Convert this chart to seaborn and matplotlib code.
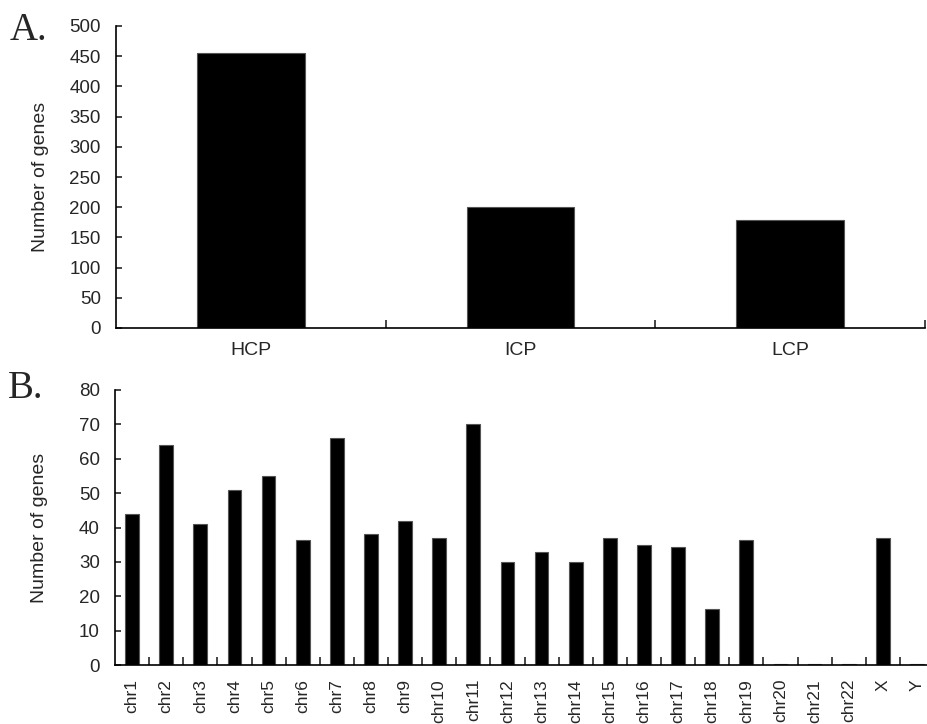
import numpy as np
import pandas as pd
import matplotlib
matplotlib.use("Agg")
import matplotlib.pyplot as plt
import seaborn as sns

# data
cpg_classes = ["HCP", "ICP", "LCP"]
cpg_counts = [455, 200, 178]

chromosomes = ["chr1", "chr2", "chr3", "chr4", "chr5", "chr6", "chr7", "chr8",
               "chr9", "chr10", "chr11", "chr12", "chr13", "chr14", "chr15",
               "chr16", "chr17", "chr18", "chr19", "chr20", "chr21", "chr22",
               "X", "Y"]
chrom_counts = [44, 64, 41, 51, 55, 36.5, 66, 38, 42, 37, 70, 30, 33, 30, 37,
                35, 34.3, 16.3, 36.5, 0.4, 0.4, 0.4, 37, 0.4]

sns.set_style("white")
plt.rcParams["font.family"] = ["Liberation Sans", "DejaVu Sans"]

fig = plt.figure(figsize=(9.27, 7.24), dpi=100)
ax1 = fig.add_axes([116 / 927, 1 - 328 / 724, (925 - 116) / 927, 302 / 724])
ax2 = fig.add_axes([115 / 927, 1 - 665 / 724, (934 - 115) / 927, 275 / 724])

df1 = pd.DataFrame({"cls": cpg_classes, "n": cpg_counts})
df2 = pd.DataFrame({"chrom": chromosomes, "n": chrom_counts})

sns.barplot(data=df1, x="cls", y="n", color="black", width=0.4,
            edgecolor="#555555", linewidth=0.8, saturation=1, ax=ax1)
sns.barplot(data=df2, x="chrom", y="n", color="black", width=0.4,
            edgecolor="#555555", linewidth=0.8, saturation=1, ax=ax2)

for ax, n, ymax, step in [(ax1, 3, 500, 50), (ax2, 24, 80, 10)]:
    ax.set_xlim(-0.5, n - 0.5)
    ax.set_ylim(0, ymax)
    ax.set_yticks(np.arange(0, ymax + 1, step))
    ax.set_xticks(np.arange(n) + 0.5, minor=True)
    sns.despine(ax=ax)
    for s in ["left", "bottom"]:
        ax.spines[s].set_color("black")
        ax.spines[s].set_linewidth(1.2)
    ax.tick_params(axis="y", direction="in", length=4, width=1.2, labelsize=13.5, pad=11, left=True)
    ax.tick_params(axis="x", which="minor", direction="in", length=6, width=1.2, bottom=True)
    ax.set_xlabel("")
    ax.set_ylabel("Number of genes", fontsize=14)

ax1.tick_params(axis="x", which="major", length=0, labelsize=14, pad=10)
ax2.tick_params(axis="x", which="major", length=0, labelsize=12.5, pad=10, labelrotation=90)
ax1.yaxis.set_label_coords(-0.083, 0.5)
ax2.yaxis.set_label_coords(-0.082, 0.5)

fig.text(10 / 927, 1 - 40 / 724, "A.", fontsize=28, family="Liberation Serif")
fig.text(8 / 927, 1 - 398 / 724, "B.", fontsize=28, family="Liberation Serif")

fig.savefig("out.png", dpi=100)
